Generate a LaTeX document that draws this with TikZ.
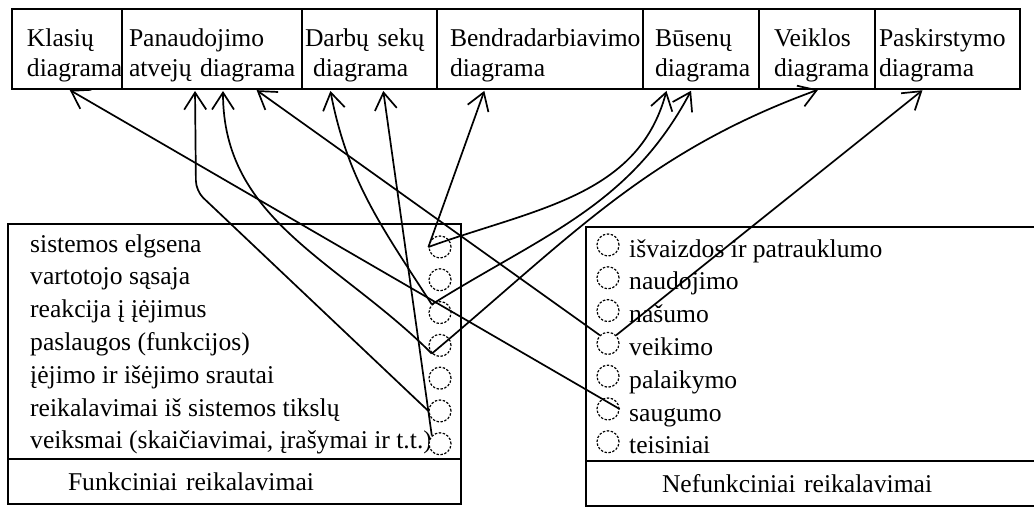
\documentclass[tikz,border=0pt]{standalone}
\usepackage{fontspec}
\setmainfont{Liberation Serif}
\usetikzlibrary{arrows.meta,positioning}

\tikzset{
  diag/.style={draw, line width=1.8pt, outer sep=0pt, align=left, inner ysep=0pt,
    text height=38pt, text depth=42pt, anchor=north west},
  part/.style={draw, line width=1.8pt, outer sep=0pt, anchor=north west},
  lbl/.style={draw, line width=1.8pt, outer sep=0pt, align=left, inner ysep=0pt,
    minimum height=45pt, anchor=south west},
  item/.style={inner sep=0pt, text height=18pt, text depth=6pt, on grid},
  ring/.style={circle, draw, dash pattern=on 2.4pt off 1.6pt, line width=1.2pt,
    fill=white, minimum size=22pt, inner sep=0pt, on grid},
  link/.style={->, line width=1.7pt},
}

\begin{document}
\begin{tikzpicture}[x=1pt, y=1pt, node distance=32.8pt, shorten >=2pt,
    >={Straight Barb[length=17pt,width=22pt]},
    font=\fontsize{25.6}{30}\selectfont]
   \useasboundingbox (0,0) rectangle (1034,-508);

   % diagramu eilute
   \node[diag, inner xsep=15pt, text width=80pt] (klasiu) at (12,-9) {Klasių\\\mbox{diagrama}};
   \node[diag, inner xsep=7pt, text width=166pt, right=0pt of klasiu] (panaud) {Panaudojimo\\\mbox{atvejų diagrama}};
   \node[diag, inner xsep=3pt, text width=129pt, right=0pt of panaud] (darbu) {\mbox{Darbų sekų}\\\hspace*{8pt}\mbox{diagrama}};
   \node[diag, inner xsep=13pt, text width=180pt, right=0pt of darbu] (bendra) {\mbox{Bendradarbiavimo}\\\mbox{diagrama}};
   \node[diag, inner xsep=12pt, text width=92pt, right=0pt of bendra] (busenu) {Būsenų\\\mbox{diagrama}};
   \node[diag, inner xsep=15pt, text width=86pt, right=0pt of busenu] (veiklos) {Veiklos\\\mbox{diagrama}};
   \node[diag, inner xsep=4pt, text width=137pt, right=0pt of veiklos] (paskirst) {\mbox{Paskirstymo}\\\mbox{diagrama}};

   % funkciniai
   \node[part, minimum width=453pt, minimum height=280pt] (funk) at (8,-224) {};
   \node[lbl, text width=333pt, inner xsep=60pt] (funklbl) at (funk.south west) {Funkciniai reikalavimai};
   \node[item, anchor=west] (f1) at (30,-246) {sistemos elgsena};
   \node[item, below=of f1.west, anchor=west] (f2) {vartotojo sąsaja};
   \node[item, below=of f2.west, anchor=west] (f3) {reakcija į įėjimus};
   \node[item, below=of f3.west, anchor=west] (f4) {paslaugos (funkcijos)};
   \node[item, below=of f4.west, anchor=west] (f5) {įėjimo ir išėjimo srautai};
   \node[item, below=of f5.west, anchor=west] (f6) {reikalavimai iš sistemos tikslų};
   \node[item, below=of f6.west, anchor=west] (f7) {veiksmai (skaičiavimai, įrašymai ir t.t.)};
   \node[ring] (fc1) at (440,-247) {};
   \node[ring, below=of fc1] (fc2) {};
   \node[ring, below=of fc2] (fc3) {};
   \node[ring, below=of fc3] (fc4) {};
   \node[ring, below=of fc4] (fc5) {};
   \node[ring, below=of fc5] (fc6) {};
   \node[ring, below=of fc6] (fc7) {};

   % nefunkciniai
   \node[part, minimum width=454pt, minimum height=279pt] (nefunk) at (586,-227) {};
   \node[lbl, text width=302pt, inner xsep=76pt] (nefunklbl) at (nefunk.south west) {Nefunkciniai reikalavimai};
   \node[item, anchor=west] (n1) at (629,-251) {išvaizdos ir patrauklumo};
   \node[item, below=of n1.west, anchor=west] (n2) {naudojimo};
   \node[item, below=of n2.west, anchor=west] (n3) {našumo};
   \node[item, below=of n3.west, anchor=west] (n4) {veikimo};
   \node[item, below=of n4.west, anchor=west] (n5) {palaikymo};
   \node[item, below=of n5.west, anchor=west] (n6) {saugumo};
   \node[item, below=of n6.west, anchor=west] (n7) {teisiniai};
   \node[ring] (nc1) at (608,-245) {};
   \node[ring, below=of nc1] (nc2) {};
   \node[ring, below=of nc2] (nc3) {};
   \node[ring, below=of nc3] (nc4) {};
   \node[ring, below=of nc4] (nc5) {};
   \node[ring, below=of nc5] (nc6) {};
   \node[ring, below=of nc6] (nc7) {};

   % rodykles
   \draw[link] (fc1.west) -- ([xshift=48pt]bendra.south west);
   \draw[link] (fc1.west) to[out=20,in=-105] ([xshift=24pt]busenu.south west);
   \draw[link] (fc3.135) to[out=123,in=-79] ([xshift=28pt]darbu.south west);
   \draw[link] (fc3.135) to[out=32,in=-118] ([xshift=49pt]busenu.south west);
   \draw[link] (fc4.225) to[out=135,in=-90] ([xshift=101pt]panaud.south west);
   \draw[link] (fc4.225) to[out=40,in=-160] ([xshift=61pt]veiklos.south west);
   \draw[link, rounded corners=10pt] (fc6.west) -- ([xshift=74pt,yshift=-102pt]panaud.south west)
      -- ([xshift=73pt]panaud.south west);
   \draw[link] (fc7.135) -- ([xshift=81pt]darbu.south west);
   \draw[link] (nc4.135) -- ([xshift=133pt]panaud.south west);
   \draw[link] (nc4.45) -- ([xshift=49pt]paskirst.south west);
   \draw[link] (nc6.east) -- ([xshift=56pt]klasiu.south west);
\end{tikzpicture}
\end{document}
